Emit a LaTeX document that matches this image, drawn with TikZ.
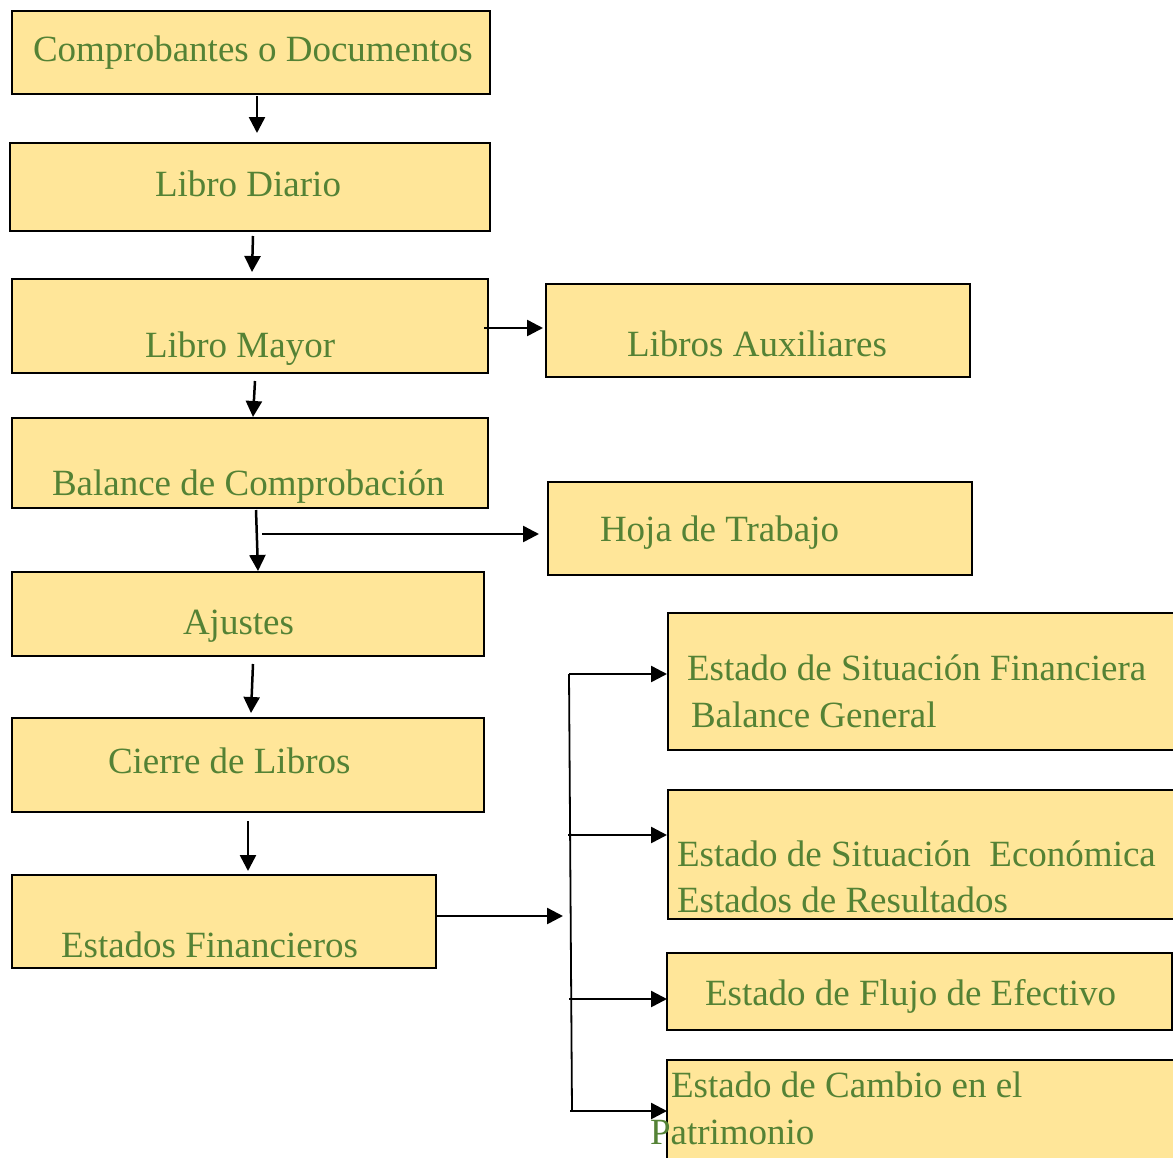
\documentclass[tikz,border=0pt]{standalone}
\usepackage{fontspec}
\setmainfont{Liberation Serif}
\usetikzlibrary{arrows.meta,calc}
\definecolor{boxfill}{HTML}{FFE699}
\definecolor{textgreen}{HTML}{548235}
\tikzset{
  box/.style={draw=black, line width=2.2pt, fill=boxfill, rectangle,
    inner sep=0pt, outer sep=0pt, anchor=north west},
  txt/.style={anchor=base west, inner sep=0pt, outer sep=0pt, text=textgreen,
    font=\fontsize{37}{44}\selectfont},
  arr/.style={line width=2.5pt, -{Triangle[length=16pt,width=16pt]}},
  bus/.style={line width=1.8pt}
}
% box of given corners: #1 name, (x1,y1) (x2,y2)
\newcommand{\flowbox}[5]{%
  \node[box, minimum width={(#4-#2)*1pt}, minimum height={(#5-#3)*1pt}] (#1) at (#2,#3) {};}
\begin{document}
\begin{tikzpicture}[x=1pt,y=-1pt]
\useasboundingbox (0,0) rectangle (1173,1157);
\clip (0,0) rectangle (1173,1157);

% main column
\flowbox{comp}{12}{11}{490}{94}
\flowbox{diario}{10}{143}{490}{231}
\flowbox{mayor}{12}{279}{488}{373}
\flowbox{balance}{12}{418}{488}{508}
\flowbox{ajustes}{12}{572}{484}{656}
\flowbox{cierre}{12}{718}{484}{812}
\flowbox{estados}{12}{875}{436}{968}
% side boxes
\flowbox{aux}{546}{284}{970}{377}
\flowbox{hoja}{548}{482}{972}{575}
% financial statements
\flowbox{esf}{668}{613}{1190}{750}
\flowbox{ese}{668}{790}{1190}{919}
\flowbox{flujo}{667}{953}{1172}{1030}
\flowbox{cambio}{667}{1060}{1190}{1170}

% labels
\node[txt] (tcomp) at (33,61) {Comprobantes o Documentos};
\node[txt] (tdiario) at (155,196) {Libro Diario};
\node[txt] (tmayor) at (145,357) {Libro Mayor};
\node[txt] (tbalance) at (52,495) {Balance de Comprobación};
\node[txt] (tajustes) at (183,634) {Ajustes};
\node[txt] (tcierre) at (108,773) {Cierre de Libros};
\node[txt] (testados) at (61,957) {Estados Financieros};
\node[txt] (taux) at (627,356) {Libros Auxiliares};
\node[txt] (thoja) at (600,541) {Hoja de Trabajo};
\node[txt] (tesfa) at (687,680) {Estado de Situación Financiera};
\node[txt] (tesfb) at (691,727) {Balance General};
\node[txt] (tesea) at (677,866) {Estado de Situación\ \ Económica};
\node[txt] (teseb) at (677,912) {Estados de Resultados};
\node[txt] (tflujo) at (705,1005) {Estado de Flujo de Efectivo};
\node[txt] (tcambioa) at (671,1097) {Estado de Cambio en el};
\node[txt] (tcambiob) at (650,1144) {Patrimonio};

% flow down the main column
\draw[arr] ($(comp.south)+(6,2)$) -- ($(diario.north)+(7,-10)$);
\draw[arr] ($(diario.south)+(3,5)$) -- ($(mayor.north)+(2,-7)$);
\draw[arr] ($(mayor.south)+(5,8)$) -- ($(balance.north)+(3,-1)$);
\draw[arr] ($(balance.south)+(6,2)$) -- ($(ajustes.north)+(10,-1)$);
\draw[arr] ($(ajustes.south)+(5,8)$) -- ($(cierre.north)+(3,-5)$);
\draw[arr] ($(cierre.south)+(0,9)$) -- ($(estados.north)+(24,-4)$);

% side branches
\draw[arr] ($(mayor.east)+(-4,2)$) -- ($(aux.west)+(-3,-2.5)$);
\draw[arr] ($(balance.south)+(12,26)$) -- ($(hoja.west)+(-9,5.5)$);

% financial statements fork
\coordinate (fork) at (563,916);
\coordinate (bustop) at (569,674);
\coordinate (busbot) at (572,1111);
\draw[arr] ($(estados.east)+(0,-5.5)$) -- (fork);
\draw[bus] (bustop) -- (busbot);
\coordinate (b1) at (569,674);
\coordinate (b2) at (568,835);
\coordinate (b3) at (569,999);
\coordinate (b4) at (570,1111);
\draw[arr] (b1) -- ($(esf.west)+(-1,-7.5)$);
\draw[arr] (b2) -- ($(ese.west)+(-1,-19.5)$);
\draw[arr] (b3) -- ($(flujo.west)+(0,7.5)$);
\draw[arr] (b4) -- ($(cambio.west)+(0,-4)$);
\end{tikzpicture}
\end{document}
